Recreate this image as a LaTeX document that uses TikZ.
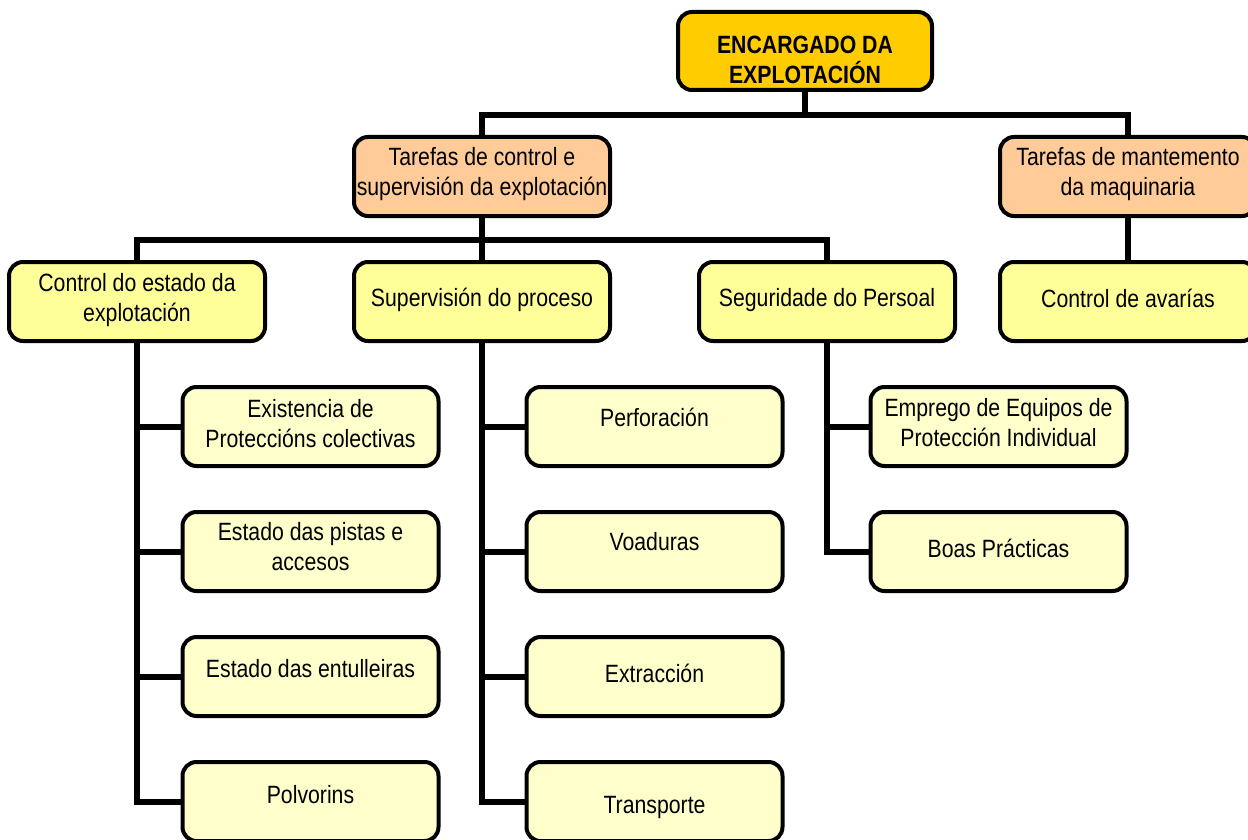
\documentclass[tikz,border=0pt]{standalone}
\usepackage{fontspec}
\setmainfont{Liberation Sans}[FakeStretch=0.85]
\definecolor{gold}{HTML}{FFCC00}
\definecolor{peach}{HTML}{FFCC99}
\definecolor{yel}{HTML}{FFFF99}
\definecolor{pale}{HTML}{FFFFCC}
\newcommand\twol[2]{\vbox{\halign{\hfil##\hfil\cr #1\cr #2\cr}}}
\newcommand\sh[2]{\raisebox{#1}[\height][\depth]{#2}}
\tikzset{
  box/.style={draw=black, line width=4pt, rounded corners=14pt,
    minimum width=256pt, minimum height=79pt, inner sep=2pt,
    font=\fontsize{25}{30}\selectfont},
  topbox/.style={box, fill=gold, minimum width=254pt, minimum height=78pt, font=\fontsize{25}{30}\selectfont\bfseries},
  orbox/.style={box, fill=peach},
  ybox/.style={box, fill=yel},
  pbox/.style={box, fill=pale},
  conn/.style={draw=black, line width=6pt}
}
\begin{document}
\begin{tikzpicture}[x=1pt,y=-1pt]
\useasboundingbox (0,0) rectangle (1248,840);
\clip (0,0) rectangle (1248,840);
\fill[white] (0,0) rectangle (1248,840);
% nodes
\node[topbox] (top) at (805,51) {\sh{-8.5pt}{\twol{ENCARGADO DA}{EXPLOTACIÓN}}};
\node[orbox] (t1) at (482,176.5) {\sh{2.5pt}{\twol{Tarefas de control e}{supervisión da explotación}}};
\node[orbox] (t2) at (1128,176.5) {\sh{2.5pt}{\twol{Tarefas de mantemento}{da maquinaria}}};
\node[ybox] (c1) at (137,301.5) {\sh{1.5pt}{\twol{Control do estado da}{explotación}}};
\node[ybox] (c2) at (482,301.5) {\sh{2pt}{Supervisión do proceso}};
\node[ybox] (c3) at (827,301.5) {\sh{1pt}{Seguridade do Persoal}};
\node[ybox] (c4) at (1128,301.5) {\sh{3pt}{Control de avarías}};
\node[pbox] (e1) at (310.5,426.5) {\sh{3pt}{\twol{Existencia de}{Proteccións colectivas}}};
\node[pbox] (e2) at (310.5,551.5) {\sh{4.5pt}{\twol{Estado das pistas e}{accesos}}};
\node[pbox] (e3) at (310.5,676.5) {\sh{8pt}{Estado das entulleiras}};
\node[pbox] (e4) at (310.5,801.5) {\sh{7pt}{Polvorins}};
\node[pbox] (p1) at (654.5,426.5) {\sh{9pt}{Perforación}};
\node[pbox] (p2) at (654.5,551.5) {\sh{10pt}{Voaduras}};
\node[pbox] (p3) at (654.5,676.5) {\sh{3pt}{Extracción}};
\node[pbox] (p4) at (654.5,801.5) {\sh{-6pt}{Transporte}};
\node[pbox] (s1) at (998.5,426.5) {\sh{3.5pt}{\twol{Emprego de Equipos de}{Protección Individual}}};
\node[pbox] (s2) at (998.5,551.5) {\sh{3pt}{Boas Prácticas}};
% connectors
\draw[conn] (top.south) -- ++(0,23) coordinate (j0);
\draw[conn] (j0) -| (t1.north);
\draw[conn] (j0) -| (t2.north);
\draw[conn] (t1.south) -- ++(0,22) coordinate (j1);
\draw[conn] (j1) -| (c1.north);
\draw[conn] (j1) -| (c3.north);
\draw[conn] (j1) -- (c2.north);
\draw[conn] (t2.south) -- (c4.north);
\foreach \n in {e1,e2,e3,e4} \draw[conn] (c1.south) |- (\n.west);
\foreach \n in {p1,p2,p3,p4} \draw[conn] (c2.south) |- (\n.west);
\foreach \n in {s1,s2} \draw[conn] (c3.south) |- (\n.west);
\end{tikzpicture}
\end{document}
